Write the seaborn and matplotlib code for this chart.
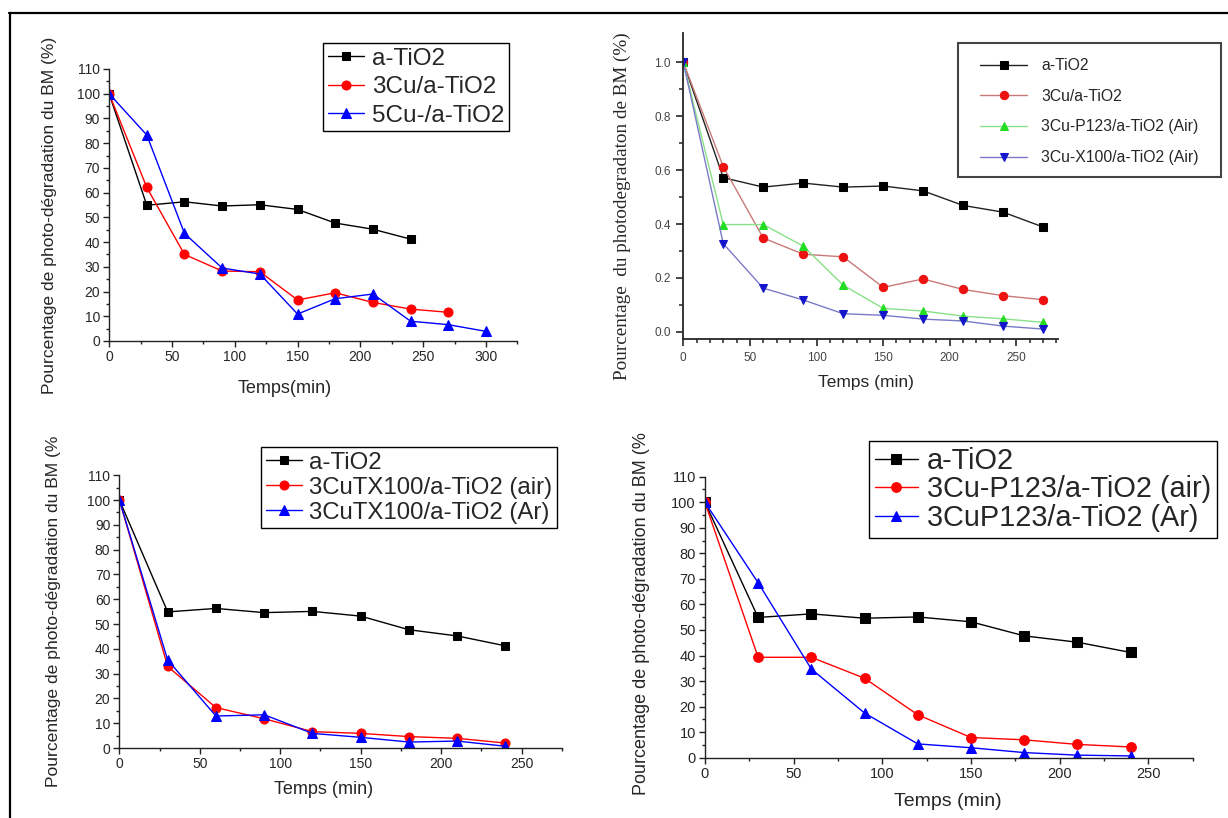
import matplotlib
matplotlib.use('Agg')
import matplotlib.pyplot as plt
from matplotlib.lines import Line2D
from matplotlib.patches import Rectangle
from matplotlib.ticker import MultipleLocator, FixedLocator, FormatStrFormatter
import seaborn as sns

# === DONNEES ===
time_240 = [0, 30, 60, 90, 120, 150, 180, 210, 240]
time_270 = time_240 + [270]
time_300 = time_270 + [300]

# a-TiO2 (meme serie dans les figures 1, 3 et 4), en %
tio2_pct = [100, 54.9, 56.3, 54.6, 55.1, 53.2, 47.7, 45.2, 41.2]

# figure 1
cu3_pct = [100, 62.1, 35.0, 28.3, 28.0, 16.6, 19.5, 15.6, 12.9, 11.6]
cu5_pct = [100, 83.3, 43.5, 29.5, 27.1, 10.9, 17.1, 19.0, 8.0, 6.6, 3.9]

# figure 2 (fraction)
tio2_frac = [1.0, 0.572, 0.537, 0.552, 0.537, 0.541, 0.523, 0.469, 0.444, 0.389]
cu3_frac = [1.0, 0.613, 0.348, 0.288, 0.278, 0.165, 0.196, 0.157, 0.134, 0.119]
p123_frac = [1.0, 0.398, 0.398, 0.318, 0.173, 0.087, 0.077, 0.058, 0.048, 0.035]
x100_frac = [1.0, 0.327, 0.162, 0.118, 0.067, 0.061, 0.047, 0.040, 0.021, 0.010]

# figure 3
tx100_air = [100, 32.9, 16.3, 11.8, 6.6, 5.9, 4.6, 3.9, 2.0]
tx100_ar = [100, 35.5, 12.9, 13.4, 5.9, 4.3, 2.4, 2.8, 0.7]

# figure 4
p123_air = [100, 39.3, 39.3, 31.1, 16.8, 7.9, 7.0, 5.2, 4.2]
p123_ar = [100, 68.5, 34.7, 17.5, 5.4, 3.9, 2.0, 1.0, 0.7]

ylabel_pct = 'Pourcentage de photo-dégradation du BM (%)'
ylabel_cut = 'Pourcentage de photo-dégradation du BM (%'

W, H = 1228, 818

sns.set_style('ticks')
plt.rcParams['font.family'] = ['Liberation Sans', 'DejaVu Sans']

fig = plt.figure(figsize=(W / 100, H / 100), dpi=100)


def px_rect(left, top, right, bottom):
    return [left / W, 1 - bottom / H, (right - left) / W, (bottom - top) / H]


def fig_xy(px, py):
    return px / W, 1 - py / H


# === PANNEAUX STYLE ORIGIN (1, 3, 4) ===

def origin_panel(rect, series, xmax, leg_xy, leg_size, leg_space, ylab, ylab_xy, ylab_size,
                 xlab, xlab_xy, xlab_size, tick_size=10):
    ax = fig.add_axes(rect)
    for t, v, label, color, marker, ms in series:
        sns.lineplot(x=t, y=v, ax=ax, color=color, marker=marker, markersize=ms,
                     markeredgecolor=color, linewidth=1, label=label)
    ax.set_xlim(0, xmax)
    ax.set_ylim(0, 110)
    ax.xaxis.set_major_locator(MultipleLocator(50))
    ax.xaxis.set_minor_locator(MultipleLocator(25))
    ax.yaxis.set_major_locator(MultipleLocator(10))
    ax.yaxis.set_minor_locator(MultipleLocator(5))
    sns.despine(ax=ax)
    for s in ['left', 'bottom']:
        ax.spines[s].set_color('#222222')
        ax.spines[s].set_linewidth(1)
    ax.tick_params(which='major', direction='out', length=4.5, width=1,
                   labelsize=tick_size, pad=2, color='#222222')
    ax.tick_params(which='minor', direction='out', length=2.5, width=1, color='#222222')
    ax.set_xlabel('')
    ax.set_ylabel('')
    ax.legend(loc='upper left', bbox_to_anchor=fig_xy(*leg_xy), bbox_transform=fig.transFigure,
              borderaxespad=0, fontsize=leg_size, handlelength=1.5, handletextpad=0.3,
              borderpad=0.2, labelspacing=leg_space, fancybox=False, framealpha=1,
              edgecolor='black')
    ax.get_legend().get_frame().set_linewidth(1)
    fig.text(*fig_xy(*ylab_xy), ylab, rotation=90, ha='center', va='center', fontsize=ylab_size)
    fig.text(*fig_xy(*xlab_xy), xlab, ha='center', va='center', fontsize=xlab_size)
    return ax


origin_panel(px_rect(109.1, 69, 517.4, 341),
             [(time_240, tio2_pct, 'a-TiO2', 'black', 's', 6),
              (time_270, cu3_pct, '3Cu/a-TiO2', 'red', 'o', 6.5),
              (time_300, cu5_pct, '5Cu-/a-TiO2', 'blue', '^', 7)],
             325, (323, 43), 17.5, 0.26, ylabel_pct, (50, 215), 12.6, 'Temps(min)', (285, 388), 13)

origin_panel(px_rect(119.4, 475.3, 561.8, 748),
             [(time_240, tio2_pct, 'a-TiO2', 'black', 's', 6),
              (time_240, tx100_air, '3CuTX100/a-TiO2 (air)', 'red', 'o', 6.5),
              (time_240, tx100_ar, '3CuTX100/a-TiO2 (Ar)', 'blue', '^', 7)],
             275, (261, 447), 17.3, 0.12, ylabel_cut, (54, 611), 12.6, 'Temps (min)', (324, 789), 13)

origin_panel(px_rect(704.9, 476.7, 1192.7, 757.7),
             [(time_240, tio2_pct, 'a-TiO2', 'black', 's', 6.5),
              (time_240, p123_air, '3Cu-P123/a-TiO2 (air)', 'red', 'o', 7),
              (time_240, p123_ar, '3CuP123/a-TiO2 (Ar)', 'blue', '^', 7.5)],
             275, (869, 441), 20.8, 0.02, ylabel_cut, (642, 614), 13, 'Temps (min)', (948, 801), 14,
             tick_size=10.5)

# === PANNEAU 2 (fractions) ===
ax2 = fig.add_axes(px_rect(683.3, 33.3, 1057.7, 339.3))
series2 = [(tio2_frac, 'a-TiO2', '#222222', 'black', 's'),
           (cu3_frac, '3Cu/a-TiO2', '#c87a7a', '#ee1111', 'o'),
           (p123_frac, '3Cu-P123/a-TiO2 (Air)', '#88e088', '#22dd22', '^'),
           (x100_frac, '3Cu-X100/a-TiO2 (Air)', '#7a7ac8', '#1515cc', 'v')]
for v, label, lc, mc, marker in series2:
    sns.lineplot(x=time_270, y=v, ax=ax2, color=lc, marker=marker, markersize=6,
                 markerfacecolor=mc, markeredgecolor=mc, linewidth=1, label=label)
ax2.set_xlim(0, 281)
ax2.set_ylim(-0.028, 1.108)
ax2.xaxis.set_major_locator(MultipleLocator(50))
ax2.xaxis.set_minor_locator(MultipleLocator(10))
ax2.yaxis.set_major_locator(MultipleLocator(0.2))
ax2.yaxis.set_minor_locator(FixedLocator([0.1, 0.3, 0.5, 0.7, 0.9]))
ax2.yaxis.set_major_formatter(FormatStrFormatter('%.1f'))
sns.despine(ax=ax2)
for s in ['left', 'bottom']:
    ax2.spines[s].set_linewidth(1.3)
ax2.tick_params(which='major', direction='out', length=5, width=1.2, labelsize=8.5,
                labelcolor='#444444', pad=4)
ax2.tick_params(which='minor', direction='out', length=3, width=1.1)
ax2.set_xlabel('')
ax2.set_ylabel('')
ax2.legend(loc='upper left', bbox_to_anchor=fig_xy(980, 58), bbox_transform=fig.transFigure,
           borderaxespad=0, borderpad=0, frameon=False, fontsize=11.3,
           handlelength=3.0, handletextpad=0.9, labelspacing=1.0)
fig.add_artist(Rectangle(fig_xy(958, 177), 263 / W, 134 / H, transform=fig.transFigure,
                         fill=False, edgecolor='#444444', linewidth=1.5))
fig.text(*fig_xy(622, 206), 'Pourcentage  du photodegradaton de BM (%)', rotation=90,
         ha='center', va='center', fontsize=13.8, family=['Liberation Serif', 'DejaVu Serif'])
fig.text(*fig_xy(866, 382), 'Temps (min)', ha='center', va='center', fontsize=12.5)

# === CADRE ===
fig.add_artist(Line2D([9 / W, 1], [1 - 13 / H] * 2, transform=fig.transFigure,
                      color='black', linewidth=1.6))
fig.add_artist(Line2D([10 / W] * 2, [0, 1 - 13 / H], transform=fig.transFigure,
                      color='black', linewidth=1.6))

fig.savefig('out.png', dpi=100)
